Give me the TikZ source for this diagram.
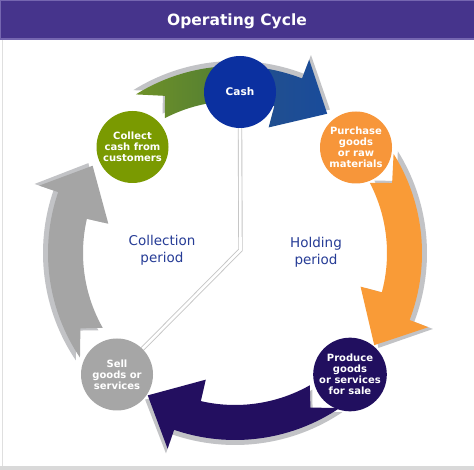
\documentclass[tikz,border=0pt]{standalone}
\usepackage{fontspec}
\setmainfont{DejaVu Sans}
\usetikzlibrary{backgrounds}
\definecolor{hdr}{HTML}{46348C}
\definecolor{hdrline}{HTML}{7566B0}
\definecolor{cashc}{HTML}{0B30A0}
\definecolor{collectc}{HTML}{7A9A01}
\definecolor{purchc}{HTML}{F7963A}
\definecolor{prodc}{HTML}{210F5F}
\definecolor{sellc}{HTML}{A6A6A6}
\definecolor{orangearr}{HTML}{F99B37}
\definecolor{navyarr}{HTML}{230F60}
\definecolor{greyarr}{HTML}{A5A5A5}
\definecolor{shadowc}{HTML}{C2C3C6}
\definecolor{txtblue}{HTML}{263C96}
\definecolor{grnA}{HTML}{6F9128}
\definecolor{grnB}{HTML}{527E33}
\definecolor{bluA}{HTML}{23508C}
\definecolor{bluB}{HTML}{194B9B}
\pgfdeclarehorizontalshading{gbshade}{100bp}{color(0bp)=(grnA); color(25bp)=(grnA); color(49bp)=(grnB); color(55bp)=(bluA); color(75bp)=(bluB); color(100bp)=(bluB)}
\tikzset{
  stage/.style={circle, minimum size=72pt, inner sep=0pt, align=center, text=white,
    font=\bfseries\fontsize{10}{11}\selectfont},
  periodtext/.style={align=center, text=txtblue, font=\fontsize{13.5}{17}\selectfont},
  dbl/.style={draw=gray!45, line width=0.9pt, double=white, double distance=2.6pt}
}
% #1 tail angle, #2 head base angle, #3 tip angle, #4 radial offset, #5 path options
\newcommand{\cyclearrow}[5]{%
  \path[#5] (#1:187+#4) -- (#1-8:172+#4) -- (#1-4.5:152+#4)
    arc[start angle=#1-4.5, end angle=#2+3, radius=152+#4]
    -- (#2+3:130+#4) -- (#3:167+#4) -- (#2-3:207+#4) -- (#2-3:187+#4)
    arc[start angle=#2-3, end angle=#1, radius=187+#4] -- cycle;}
\begin{document}
\begin{tikzpicture}[x=1pt,y=1pt]
\useasboundingbox (0,0) rectangle (474,470);
% stages
\node[stage, fill=cashc, font=\bfseries\fontsize{10.5}{12}\selectfont] (cash) at (240,378) {Cash};
\node[stage, fill=collectc] (collect) at (132.5,323) {Collect\\cash from\\customers};
\node[stage, fill=purchc] (purchase) at (356,322.5) {Purchase\\goods\\or raw\\materials};
\node[stage, fill=prodc] (produce) at (350,95.5) {Produce\\goods\\or services\\for sale};
\node[stage, fill=sellc] (sell) at (117,95.5) {Sell\\goods or\\services};
% period labels
\node[periodtext] (coll) at (162,220) {Collection\\period};
\node[periodtext] (hold) at (316,218) {Holding\\period};
% title
\node (title) at (237,449) {\color{white}\bfseries\fontsize{15.5}{18}\selectfont Operating Cycle};
\begin{scope}[on background layer]
  \fill[white] (0,0) rectangle (474,470);
  % header
  \fill[hdr] (0,431) rectangle (474,470);
  \draw[hdrline, line width=1.2pt] (0.6,431) -- (0.6,469.4) -- (474,469.4);
  \draw[hdrline, line width=1.2pt] (0,431) -- (474,431);
  % frame bits
  \draw[gray!25, line width=0.8pt] (2.5,3) -- (2.5,430);
  \fill[gray!30] (0,0) rectangle (474,3.5);
  % centre of the cycle
  \coordinate (c) at (235,217);
  \begin{scope}[shift={(c)}]
    % shadows
    \cyclearrow{122}{72}{56.5}{5}{fill=shadowc}
    \cyclearrow{32}{-18}{-33.5}{5}{fill=shadowc}
    \cyclearrow{-56}{-106}{-121.5}{5}{fill=shadowc}
    \cyclearrow{214}{164}{148.5}{5}{fill=shadowc}
    % arrows
    \cyclearrow{122}{72}{56.5}{0}{shading=gbshade}
    \cyclearrow{32}{-18}{-33.5}{0}{fill=orangearr}
    \cyclearrow{-56}{-106}{-121.5}{0}{fill=navyarr}
    \cyclearrow{214}{164}{148.5}{0}{fill=greyarr}
  \end{scope}
  % divider
  \coordinate (bend) at (240.5,220);
  \draw[dbl] (cash.south) -- (bend) -- (sell);
\end{scope}
\end{tikzpicture}
\end{document}
